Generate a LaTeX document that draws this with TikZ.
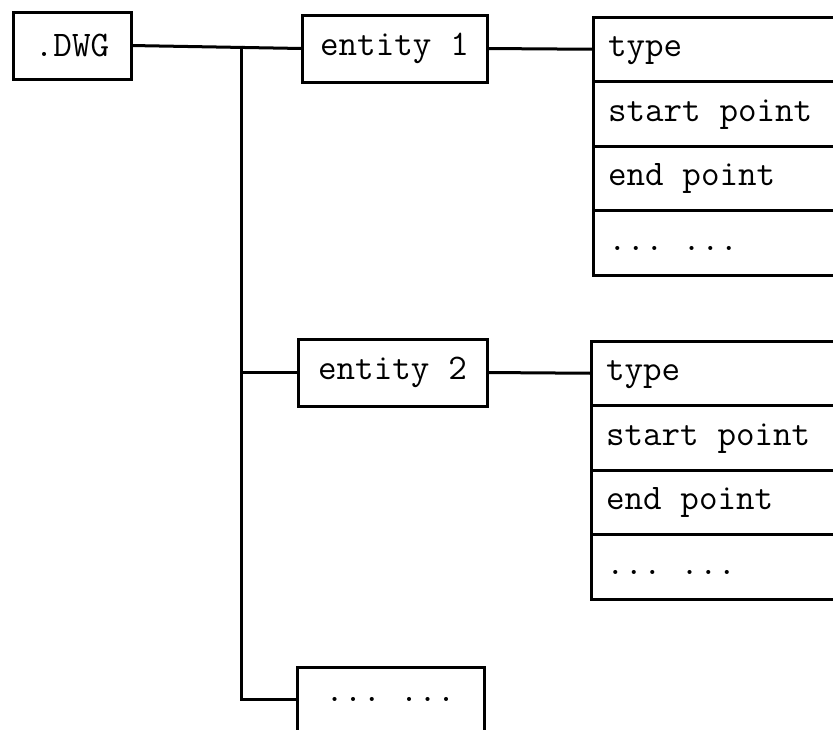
\documentclass[tikz,border=0pt]{standalone}
\usetikzlibrary{positioning}
\newcommand\fieldfont{\ttfamily\fontsize{36}{42}\selectfont\frenchspacing\spaceskip=0.525em\relax}

\begin{document}
\begin{tikzpicture}[x=1pt,y=-1pt,line width=3pt,
  entbox/.style={draw,rectangle,outer sep=0pt,inner sep=0pt,minimum height=67pt,
    font=\fieldfont},
  field/.style={draw,rectangle,outer sep=0pt,inner xsep=15pt,inner ysep=0pt,
    minimum height=64.5pt,text width=240pt,align=flush left,text height=22pt,text depth=7pt,
    font=\fieldfont}]
\useasboundingbox (0,0) rectangle (833,729);
\clip (0,0) rectangle (833,729);

\node[entbox,minimum width=118pt] (dwg) at (72,45.5) {.DWG};
\node[entbox,minimum width=185pt] (ent1) at (394.5,48.5) {entity 1};
\node[entbox,minimum width=189pt] (ent2) at (392.5,372.5) {entity 2};
\node[entbox,minimum width=187pt,minimum height=64pt] (entN) at (390.5,699) {... ...};

% fields of entity 1
\node[field,anchor=north west] (typeA) at (593,17) {type};
\node[field,below=0pt of typeA] (startA) {start point};
\node[field,below=0pt of startA] (endA) {end point};
\node[field,below=0pt of endA] (moreA) {... ...};

% fields of entity 2
\node[field,anchor=north west] (typeB) at (591,341) {type};
\node[field,below=0pt of typeB] (startB) {start point};
\node[field,below=0pt of startB] (endB) {end point};
\node[field,below=0pt of endB] (moreB) {... ...};

\coordinate (trunk) at (241,45.5);
\draw (dwg.east) -- (ent1.west);
\draw (trunk) |- (entN.west);
\draw (trunk |- ent2.west) -- (ent2.west);
\draw (ent1.east) -- (typeA.west);
\draw (ent2.east) -- (typeB.west);

\end{tikzpicture}
\end{document}
